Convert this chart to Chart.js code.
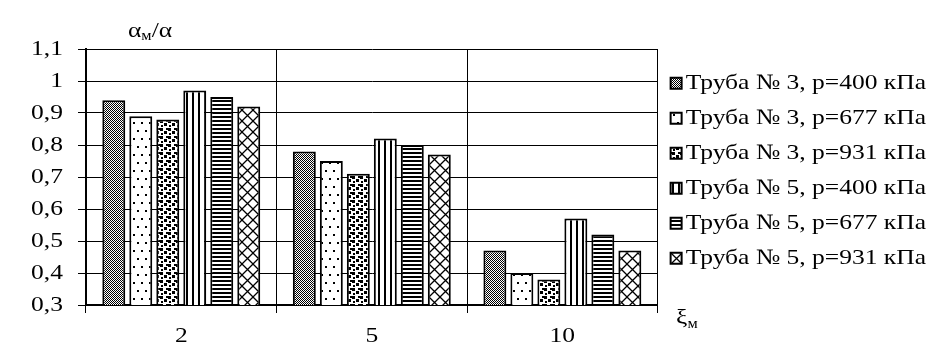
<!DOCTYPE html>
<html>
<head>
<meta charset="utf-8">
<script src="https://cdn.jsdelivr.net/npm/chart.js@4.4.1/dist/chart.umd.min.js"></script>
<style>
html,body{margin:0;padding:0;background:#fff;}
#wrap{width:947px;height:347px;position:relative;}
</style>
</head>
<body>
<div id="wrap"><canvas id="c" width="947" height="347"></canvas></div>
<script>
const categories = ['2', '5', '10'];
const seriesNames = [
  'Труба № 3, р=400 кПа',
  'Труба № 3, р=677 кПа',
  'Труба № 3, р=931 кПа',
  'Труба № 5, р=400 кПа',
  'Труба № 5, р=677 кПа',
  'Труба № 5, р=931 кПа'
];
const tube3_400 = [0.94, 0.78, 0.47];
const tube3_677 = [0.89, 0.75, 0.40];
const tube3_931 = [0.88, 0.71, 0.38];
const tube5_400 = [0.97, 0.82, 0.57];
const tube5_677 = [0.95, 0.80, 0.52];
const tube5_931 = [0.92, 0.77, 0.47];
const yTickLabels = ['0,3', '0,4', '0,5', '0,6', '0,7', '0,8', '0,9', '1', '1,1'];
const yTitle = ['α', 'м', '/α'];
const xTitle = ['ξ', 'м'];

const canvas = document.getElementById('c');
const ctx0 = canvas.getContext('2d');
// horizontally widened serif lettering (as in the reference)
const SX = 1.16;
const LEGEND_TEXT_SHIFT = -7;
const origFill = ctx0.fillText;
const origMeasure = ctx0.measureText;
ctx0.fillText = function (t, x, y) {
  if (seriesNames.includes(t)) x += LEGEND_TEXT_SHIFT;
  this.save();
  this.translate(x, y);
  this.scale(SX, 1);
  origFill.call(this, t, 0, 0);
  this.restore();
};
ctx0.measureText = function (t) {
  const m = origMeasure.call(this, t);
  return {
    width: m.width * SX,
    actualBoundingBoxAscent: m.actualBoundingBoxAscent,
    actualBoundingBoxDescent: m.actualBoundingBoxDescent,
    actualBoundingBoxLeft: m.actualBoundingBoxLeft * SX,
    actualBoundingBoxRight: m.actualBoundingBoxRight * SX
  };
};

function makePattern(w, h, draw) {
  const c = document.createElement('canvas');
  c.width = w; c.height = h;
  const g = c.getContext('2d');
  g.fillStyle = '#fff';
  g.fillRect(0, 0, w, h);
  g.fillStyle = '#000';
  g.strokeStyle = '#000';
  draw(g);
  return ctx0.createPattern(c, 'repeat');
}
const patterns = [
  makePattern(2, 2, g => { g.fillRect(0, 0, 1, 1); g.fillRect(1, 1, 1, 1); }),
  makePattern(8, 16, g => { g.fillRect(1, 2, 2, 2); g.fillRect(5, 10, 2, 2); }),
  makePattern(8, 8, g => { g.fillRect(0, 0, 3, 3); g.fillRect(4, 3, 3, 3); g.fillRect(1, 5, 2, 2); g.fillRect(6, 0, 2, 2); }),
  makePattern(6, 1, g => { g.fillRect(0, 0, 2, 1); }),
  makePattern(1, 4, g => { g.fillRect(0, 0, 1, 2); }),
  makePattern(11, 11, g => {
    g.lineWidth = 1.3;
    g.beginPath(); g.moveTo(0, 0); g.lineTo(11, 11); g.moveTo(11, 0); g.lineTo(0, 11); g.stroke();
  })
];
const seriesData = [tube3_400, tube3_677, tube3_931, tube5_400, tube5_677, tube5_931];

const titlesPlugin = {
  id: 'titles',
  afterDraw(chart) {
    const ctx = chart.ctx;
    ctx.save();
    ctx.fillStyle = '#000';
    ctx.textBaseline = 'alphabetic';
    ctx.textAlign = 'left';
    // y title
    let x = 128, y = 37;
    ctx.font = '22px "Liberation Serif"';
    ctx.fillText(yTitle[0], x, y); x += ctx.measureText(yTitle[0]).width;
    ctx.font = '14px "Liberation Serif"';
    ctx.fillText(yTitle[1], x, y + 3); x += ctx.measureText(yTitle[1]).width;
    ctx.font = '22px "Liberation Serif"';
    ctx.fillText(yTitle[2], x, y);
    // x title
    x = 676; y = 324;
    ctx.font = '22px "Liberation Serif"';
    ctx.fillText(xTitle[0], x, y); x += ctx.measureText(xTitle[0]).width;
    ctx.font = '14px "Liberation Serif"';
    ctx.fillText(xTitle[1], x, y + 4);
    ctx.restore();
  }
};

new Chart(canvas, {
  type: 'bar',
  data: {
    labels: categories,
    datasets: seriesNames.map((n, i) => ({
      label: n,
      data: seriesData[i],
      backgroundColor: patterns[i],
      borderColor: '#000',
      borderWidth: 2,
      categoryPercentage: 0.85,
      barPercentage: 0.85
    }))
  },
  options: {
    responsive: false,
    animation: false,
    devicePixelRatio: 1,
    layout: { padding: { left: 0, top: 49, right: 4, bottom: 0 } },
    plugins: {
      tooltip: { enabled: false },
      legend: {
        position: 'right',
        align: 'start',
        maxWidth: 400,
        title: { display: true, text: '', font: { size: 1 }, padding: { top: 0, bottom: 9 } },
        labels: {
          color: '#000',
          font: { family: 'Liberation Serif', size: 22 },
          boxWidth: 11,
          boxHeight: 11,
          padding: 13
        }
      }
    },
    scales: {
      x: {
        grid: { color: '#000', lineWidth: 1, offset: true, tickLength: 8, drawTicks: true },
        border: { color: '#000', width: 2 },
        ticks: { color: '#000', font: { family: 'Liberation Serif', size: 22 }, padding: 10 },
        afterFit(s) { s.height = 42; }
      },
      y: {
        min: 0.3, max: 1.1,
        grid: { color: '#000', lineWidth: 1, tickLength: 8 },
        border: { color: '#000', width: 2 },
        ticks: {
          stepSize: 0.1,
          color: '#000',
          font: { family: 'Liberation Serif', size: 22 },
          padding: 15,
          callback: (v, i) => yTickLabels[i]
        },
        afterFit(s) { s.width = 86; }
      }
    }
  },
  plugins: [titlesPlugin]
});
</script>
</body>
</html>
